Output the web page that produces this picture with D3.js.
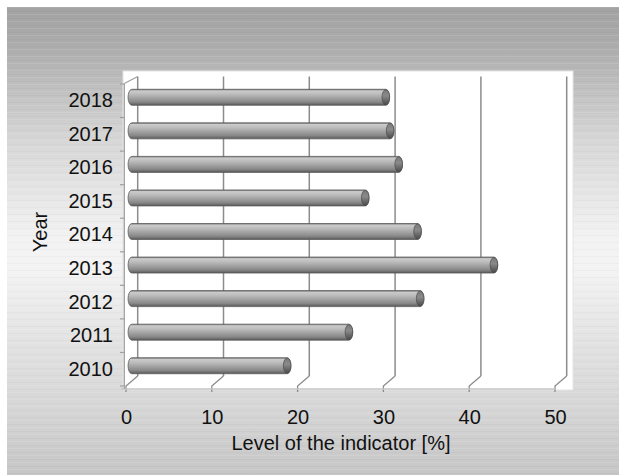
<!DOCTYPE html>
<html>
<head>
<meta charset="utf-8">
<script src="https://cdn.jsdelivr.net/npm/d3@7/dist/d3.min.js"></script>
<style>
  html, body { margin: 0; padding: 0; background: #fff; }
  svg { display: block; font-family: "Liberation Sans", Arial, sans-serif; }
</style>
</head>
<body>
<svg id="chart" width="619" height="475"></svg>
<script>
// Indicator level per year (%)
const years = ["2010", "2011", "2012", "2013", "2014", "2015", "2016", "2017", "2018"];
const values = [18.1, 25.3, 33.6, 42.2, 33.3, 27.2, 31.1, 30.1, 29.6];
const xTicks = [0, 10, 20, 30, 40, 50];
const xTitle = "Level of the indicator [%]";
const yTitle = "Year";

const svg = d3.select("#chart");
const defs = svg.append("defs");

// Backdrop gradient (dark top, bright band in the middle, grey bottom)
const bg = defs.append("linearGradient").attr("id", "bg")
  .attr("x1", 0).attr("y1", 0).attr("x2", 0).attr("y2", 1);
[[0, "#a2a2a2"], [0.08, "#acacac"], [0.16, "#bdbdbd"], [0.28, "#d6d6d6"],
 [0.5, "#f3f3f3"], [0.56, "#f3f3f3"], [0.72, "#e2e2e2"], [0.86, "#d6d6d6"], [1, "#c6c6c6"]]
  .forEach(([o, c]) => bg.append("stop").attr("offset", o).attr("stop-color", c));

// Faint horizontal streaks
const streak = defs.append("pattern").attr("id", "streak")
  .attr("patternUnits", "userSpaceOnUse").attr("width", 10).attr("height", 7);
streak.append("rect").attr("y", 0).attr("width", 10).attr("height", 1)
  .attr("fill", "#fff").attr("opacity", 0.1);
streak.append("rect").attr("y", 4).attr("width", 10).attr("height", 1)
  .attr("fill", "#000").attr("opacity", 0.025);

// Cylinder shading
const cyl = defs.append("linearGradient").attr("id", "cyl")
  .attr("x1", 0).attr("y1", 0).attr("x2", 0).attr("y2", 1);
[[0, "#6a6a6a"], [0.1, "#cbcbcb"], [0.3, "#bcbcbc"], [0.55, "#a2a2a2"],
 [0.8, "#878787"], [0.92, "#6c6c6c"], [1, "#525252"]]
  .forEach(([o, c]) => cyl.append("stop").attr("offset", o).attr("stop-color", c));
const cap = defs.append("linearGradient").attr("id", "cap")
  .attr("x1", 0).attr("y1", 0).attr("x2", 0).attr("y2", 1);
[[0, "#7a7a7a"], [0.4, "#8a8a8a"], [1, "#4a4a4a"]]
  .forEach(([o, c]) => cap.append("stop").attr("offset", o).attr("stop-color", c));

svg.append("rect").attr("x", 7).attr("y", 7).attr("width", 612).attr("height", 468).attr("fill", "url(#bg)");
svg.append("rect").attr("x", 7).attr("y", 7).attr("width", 612).attr("height", 468).attr("fill", "url(#streak)");

// Plot area
svg.append("rect").attr("x", 123).attr("y", 71).attr("width", 450).attr("height", 319)
  .attr("fill", "#fff").attr("stroke", "#e4e4e4").attr("stroke-width", 1);

// Scales: front face of the floor, plus depth offset to the back wall
const x = d3.scaleLinear().domain([0, 50]).range([126, 555]);
const y = d3.scaleBand().domain(years.slice().reverse()).range([84, 386]).padding(0);
const dx = 11.7, floorY = 389, backBottom = 376, backTop = 76.5;

const grid = svg.append("g").attr("fill", "none").attr("stroke", "#8c8c8c");

// Back-wall gridlines and floor ticks
xTicks.forEach(t => {
  const xf = x(t), xb = x(t) + dx;
  grid.append("line").attr("x1", xb).attr("x2", xb).attr("y1", backBottom).attr("y2", backTop)
    .attr("stroke-width", 1.5);
  grid.append("path")
    .attr("d", `M${xf},${floorY + 3}L${xf},${floorY - 3}L${xb},${backBottom}`)
    .attr("stroke-width", 1.3);
});

// Floor front edge
grid.append("line").attr("x1", 121).attr("x2", x(50)).attr("y1", floorY).attr("y2", floorY)
  .attr("stroke", "#c4c4c4").attr("stroke-width", 1.5);

// Left wall front edge, top corner and category ticks
grid.append("line").attr("x1", 124.3).attr("x2", 124.3).attr("y1", 83.5).attr("y2", floorY)
  .attr("stroke", "#a0a0a0").attr("stroke-width", 1.3);
grid.append("line").attr("x1", 124.3).attr("x2", x(0) + dx).attr("y1", 83.5).attr("y2", backTop)
  .attr("stroke", "#a0a0a0").attr("stroke-width", 1.3);
years.concat(["end"]).forEach((yr, i) => {
  const yy = 84 + i * y.bandwidth();
  grid.append("line").attr("x1", 120).attr("x2", 124.3).attr("y1", yy).attr("y2", yy)
    .attr("stroke", "#a0a0a0").attr("stroke-width", 1.2);
});

// Bars as horizontal cylinders at mid depth
const barH = 16, capRx = 3.8, shiftY = -3.5;
const xMid = v => x(v) + dx / 2;
const bars = svg.append("g");
years.forEach((yr, i) => {
  const cy = y(yr) + y.bandwidth() / 2 + shiftY;
  const x0 = xMid(0) - capRx, x1 = xMid(values[i]) + capRx;
  bars.append("rect")
    .attr("x", x0).attr("y", cy - barH / 2)
    .attr("width", x1 - x0).attr("height", barH)
    .attr("rx", capRx).attr("ry", barH / 2)
    .attr("fill", "url(#cyl)").attr("stroke", "#5e5e5e").attr("stroke-width", 0.8);
  bars.append("ellipse")
    .attr("cx", xMid(values[i])).attr("cy", cy)
    .attr("rx", capRx).attr("ry", barH / 2 - 0.4)
    .attr("fill", "url(#cap)").attr("stroke", "#4a4a4a").attr("stroke-width", 0.7);
});

// Axis labels via d3 axes
const xAxis = svg.append("g").attr("transform", `translate(0,${floorY})`)
  .call(d3.axisBottom(x).tickValues(xTicks).tickSize(0).tickPadding(21).tickFormat(d3.format("d")));
xAxis.select(".domain").remove();
xAxis.selectAll("text").attr("font-size", 20).attr("fill", "#111")
  .attr("font-family", "Liberation Sans, Arial, sans-serif");

const yAxis = svg.append("g").attr("transform", "translate(113,0)")
  .call(d3.axisLeft(y).tickSize(0).tickPadding(0));
yAxis.select(".domain").remove();
yAxis.selectAll("text").attr("font-size", 20).attr("fill", "#111")
  .attr("font-family", "Liberation Sans, Arial, sans-serif");

svg.append("text").attr("x", 341).attr("y", 450).attr("text-anchor", "middle")
  .attr("font-size", 20).attr("fill", "#111").text(xTitle);
svg.append("text").attr("transform", "translate(47,232) rotate(-90)")
  .attr("text-anchor", "middle").attr("font-size", 20).attr("fill", "#111").text(yTitle);
</script>
</body>
</html>
